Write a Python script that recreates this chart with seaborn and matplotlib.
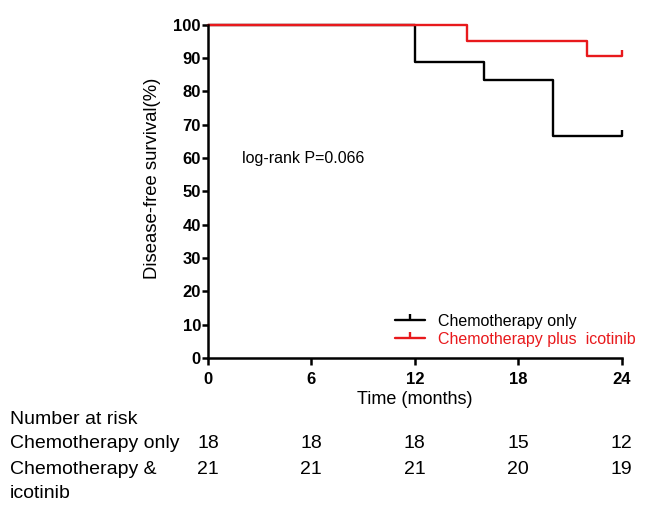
import pandas as pd
import matplotlib.pyplot as plt
import seaborn as sns
from matplotlib.lines import Line2D

# survival curves (months, %)
chemo_time = [0, 12, 16, 20, 24]
chemo_surv = [100, 88.9, 83.3, 66.7, 66.7]
icot_time = [0, 15, 22, 24]
icot_surv = [100, 95.2, 90.5, 90.5]

groups = ["Chemotherapy only", "Chemotherapy plus  icotinib"]
colors = ["black", "#e8191c"]

risk_times = [0, 6, 12, 18, 24]
risk_chemo = [18, 18, 18, 15, 12]
risk_icot = [21, 21, 21, 20, 19]

df = pd.concat([
    pd.DataFrame({"time": chemo_time, "surv": chemo_surv, "group": groups[0]}),
    pd.DataFrame({"time": icot_time, "surv": icot_surv, "group": groups[1]}),
])

sns.set_style("ticks")
plt.rcParams["font.family"] = ["Liberation Sans", "DejaVu Sans"]
for k in ["text.color", "axes.labelcolor", "xtick.color", "ytick.color", "axes.edgecolor"]:
    plt.rcParams[k] = "black"

fig = plt.figure(figsize=(6.6, 5.13), dpi=100)
ax = fig.add_axes([0.315, 0.302, 0.627, 0.65])

sns.lineplot(data=df, x="time", y="surv", hue="group", palette=colors,
             drawstyle="steps-post", linewidth=1.7, ax=ax, legend=False,
             clip_on=False)

# censor ticks at end of follow-up
censor = [(0, 0), (0, 1)]
for t, s, c in [(chemo_time, chemo_surv, colors[0]), (icot_time, icot_surv, colors[1])]:
    ax.plot(t[-1], s[-1], marker=censor, markersize=9, markeredgewidth=1.7,
            color=c, clip_on=False)

ax.set_xlim(0, 24)
ax.set_ylim(0, 100)
ax.set_xticks(risk_times)
ax.set_yticks(range(0, 101, 10))
for lbl in ax.get_xticklabels() + ax.get_yticklabels():
    lbl.set_fontweight("bold")
ax.tick_params(axis="both", labelsize=12, width=1.8)
ax.tick_params(axis="x", length=5, pad=5)
ax.tick_params(axis="y", length=4, pad=1)
for sp in ["top", "right"]:
    ax.spines[sp].set_visible(False)
for sp in ["left", "bottom"]:
    ax.spines[sp].set_linewidth(1.8)

ax.set_xlabel("Time (months)", fontsize=13, labelpad=3)
ax.set_ylabel("Disease-free survival(%)", fontsize=13.3)
ax.yaxis.set_label_coords(-0.114, 0.54)

ax.text(2.0, 60, "log-rank P=0.066", fontsize=11.5, va="center")

handles = [Line2D([0], [0], color=c, lw=1.7, marker=censor, markersize=9,
                  markeredgewidth=1.7) for c in colors]
leg = ax.legend(handles, groups, loc="lower right", bbox_to_anchor=(1.06, 0.0),
                frameon=False, fontsize=11.5, handlelength=1.9, handletextpad=0.8,
                labelspacing=0.2, borderaxespad=0.3)
for txt, c in zip(leg.get_texts(), colors):
    txt.set_color(c)

# number at risk table
trans = ax.get_xaxis_transform()
fig.text(10 / 660, 1 - 419 / 513, "Number at risk", fontsize=14, va="center")
fig.text(10 / 660, 1 - 443 / 513, "Chemotherapy only", fontsize=14, va="center")
fig.text(10 / 660, 1 - 469 / 513, "Chemotherapy &", fontsize=14, va="center")
fig.text(10 / 660, 1 - 494 / 513, "icotinib", fontsize=14, va="center")
y1 = (1 - 443 / 513 - 0.302) / 0.65
y2 = (1 - 469 / 513 - 0.302) / 0.65
for t, a, b in zip(risk_times, risk_chemo, risk_icot):
    ax.text(t, y1, str(a), transform=trans, fontsize=14, ha="center",
            va="center", clip_on=False)
    ax.text(t, y2, str(b), transform=trans, fontsize=14, ha="center",
            va="center", clip_on=False)

fig.savefig("out.png", dpi=100)
